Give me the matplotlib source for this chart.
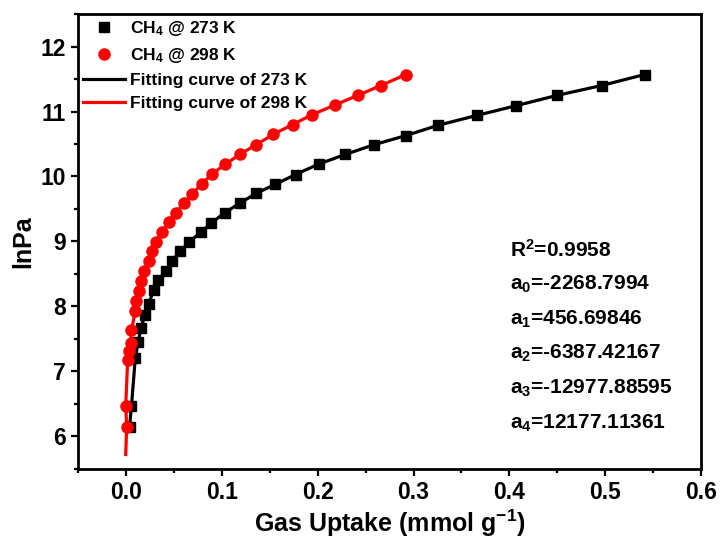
import matplotlib
matplotlib.use('Agg')
import matplotlib.pyplot as plt
from matplotlib.ticker import MultipleLocator

plt.rcParams['font.family'] = ['Liberation Sans', 'DejaVu Sans']
plt.rcParams['font.weight'] = 'bold'
plt.rcParams['mathtext.fontset'] = 'custom'
plt.rcParams['mathtext.rm'] = 'Liberation Sans:bold'
plt.rcParams['mathtext.it'] = 'Liberation Sans:bold'
plt.rcParams['mathtext.bf'] = 'Liberation Sans:bold'
plt.rcParams['mathtext.default'] = 'rm'

# CH4 @ 273 K
x273 = [0.004, 0.006, 0.010, 0.013, 0.016, 0.020, 0.024, 0.029, 0.034, 0.042,
        0.048, 0.057, 0.066, 0.078, 0.089, 0.103, 0.119, 0.136, 0.156, 0.177,
        0.201, 0.229, 0.259, 0.292, 0.326, 0.366, 0.407, 0.450, 0.496, 0.541]
y273 = [6.15, 6.47, 7.21, 7.45, 7.67, 7.87, 8.04, 8.25, 8.41, 8.55,
        8.70, 8.85, 8.99, 9.14, 9.28, 9.44, 9.59, 9.74, 9.88, 10.03,
        10.19, 10.34, 10.49, 10.63, 10.79, 10.94, 11.09, 11.25, 11.40, 11.57]

# CH4 @ 298 K
x298 = [0.001, 0.000, 0.002, 0.003, 0.005, 0.006, 0.010, 0.011, 0.014, 0.016,
        0.019, 0.024, 0.027, 0.032, 0.038, 0.045, 0.052, 0.061, 0.069, 0.079,
        0.090, 0.104, 0.119, 0.136, 0.154, 0.174, 0.194, 0.218, 0.242, 0.266, 0.292]
y298 = [6.15, 6.47, 7.17, 7.32, 7.44, 7.63, 7.93, 8.09, 8.24, 8.39,
        8.55, 8.70, 8.85, 8.99, 9.14, 9.30, 9.44, 9.59, 9.73, 9.88,
        10.04, 10.19, 10.34, 10.49, 10.65, 10.80, 10.95, 11.10, 11.25, 11.40, 11.57]

# fitting curves (298 K curve runs a bit below the first point)
fit273_x = x273
fit273_y = y273
fit298_x = [0.000] + x298
fit298_y = [5.72] + y298

fit_params = ['R$^2$=0.9958', 'a$_0$=-2268.7994', 'a$_1$=456.69846',
              'a$_2$=-6387.42167', 'a$_3$=-12977.88595', 'a$_4$=12177.11361']

fig = plt.figure(figsize=(7.2, 5.42), dpi=100)
ax = fig.add_axes([0.108, 0.135, 0.866, 0.839])

ax.plot(fit273_x, fit273_y, color='black', lw=2.3, label='Fitting curve of 273 K', zorder=2)
ax.plot(fit298_x, fit298_y, color='red', lw=2.3, label='Fitting curve of 298 K', zorder=2)
ax.plot(x273, y273, ls='none', marker='s', ms=7.5, color='black', label='CH$_4$ @ 273 K', zorder=3)
ax.plot(x298, y298, ls='none', marker='o', ms=8, color='red', label='CH$_4$ @ 298 K', zorder=3)

ax.set_xlim(-0.05, 0.6)
ax.set_ylim(5.5, 12.5)
ax.xaxis.set_major_locator(MultipleLocator(0.1))
ax.xaxis.set_minor_locator(MultipleLocator(0.05))
ax.yaxis.set_major_locator(MultipleLocator(1))
ax.yaxis.set_minor_locator(MultipleLocator(0.5))
ax.tick_params(which='major', direction='out', length=5, width=1.6, top=False, right=False)
ax.tick_params(which='minor', direction='out', length=3, width=1.6, top=False, right=False)

for lab in ax.get_xticklabels() + ax.get_yticklabels():
    lab.set_fontsize(16.5)
    lab.set_fontweight('bold')

for s in ax.spines.values():
    s.set_linewidth(2)

ax.set_xlabel('Gas Uptake (mmol g$^{-1}$)', fontsize=18, fontweight='bold', labelpad=3)
ax.set_ylabel('lnPa', fontsize=18, fontweight='bold', labelpad=4)

handles, labels = ax.get_legend_handles_labels()
order = [2, 3, 0, 1]
ax.legend([handles[i] for i in order], [labels[i] for i in order], loc='upper left',
          frameon=False, fontsize=12.5, handlelength=2.4, handletextpad=0.3,
          borderaxespad=0.1, borderpad=0.2, labelspacing=0.45)

for i, txt in enumerate(fit_params):
    ax.text(0.693, 0.481 - i * 0.076, txt, transform=ax.transAxes, fontsize=15,
            fontweight='bold', va='center', ha='left')

fig.savefig('out.png', dpi=100)
